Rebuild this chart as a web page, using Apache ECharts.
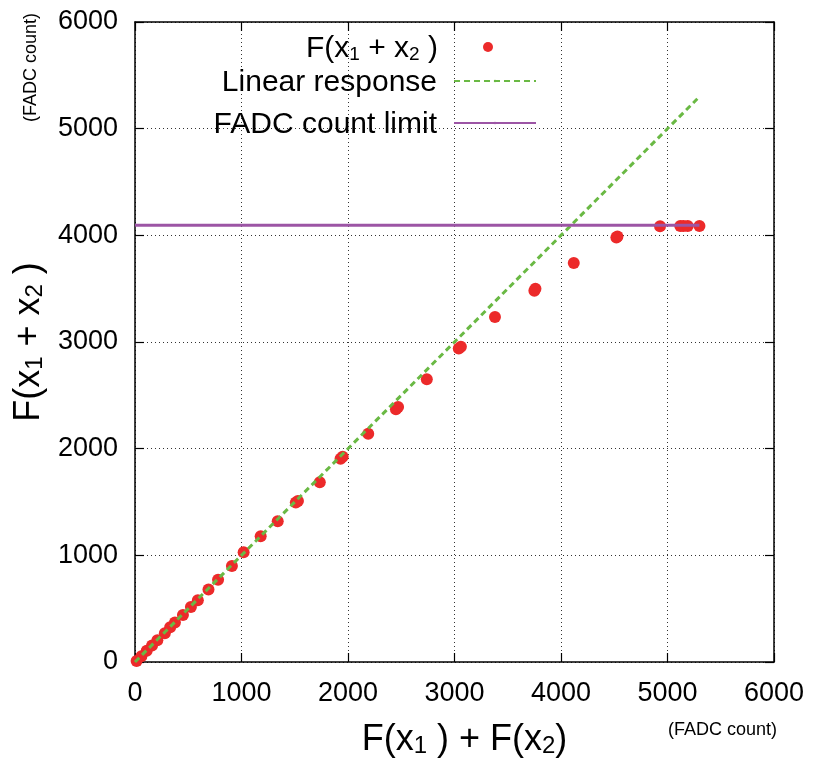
<!DOCTYPE html>
<html>
<head>
<meta charset="utf-8">
<script src="https://cdn.jsdelivr.net/npm/echarts@6/dist/echarts.min.js"></script>
<style>html,body{margin:0;padding:0;background:#fff}#c{width:825px;height:763px}</style>
</head>
<body>
<div id="c"></div>
<script>
// Measured points: input sum F(x1)+F(x2) vs. measured F(x1+x2), FADC counts
var sumInputs = [15, 60, 110, 160, 210, 280, 330, 375, 450, 525, 590, 690, 780, 910, 1020, 1180, 1340, 1510, 1530, 1735, 1930, 1950, 2190, 2450, 2470, 2740, 3040, 3060, 3380, 3750, 3760, 4120, 4520, 4530, 4930, 5120, 5150, 5190, 5300];
var measured  = [10, 55, 105, 155, 205, 270, 325, 370, 440, 515, 580, 680, 770, 900, 1030, 1180, 1320, 1495, 1510, 1685, 1905, 1925, 2140, 2370, 2390, 2650, 2940, 2955, 3235, 3480, 3500, 3740, 3980, 3990, 4085, 4088, 4088, 4088, 4088];
var linearX = [0, 5280];
var linearY = [0, 5280];
var limitX = [0, 5300];
var limitY = [4095, 4095];
var axisTicks = [0, 1000, 2000, 3000, 4000, 5000, 6000];

var FONT = '"Liberation Sans", Arial, sans-serif';
var chart = echarts.init(document.getElementById('c'));

function zip(a, b) { return a.map(function (v, i) { return [v, b[i]]; }); }

var legRich = {
  a: { fontSize: 30, fontFamily: FONT, color: '#000', verticalAlign: 'bottom', lineHeight: 34 },
  s: { fontSize: 19, fontFamily: FONT, color: '#000', verticalAlign: 'bottom', lineHeight: 30 }
};
var nameRich = {
  a: { fontSize: 36, fontFamily: FONT, color: '#000', verticalAlign: 'bottom', lineHeight: 40 },
  s: { fontSize: 24, fontFamily: FONT, color: '#000', verticalAlign: 'bottom', lineHeight: 34 }
};

var legendNames = {
  'F(x1 + x2 )': '{a|F(x}{s|1}{a| + x}{s|2}{a| )}',
  'Linear response': '{a|Linear response}',
  'FADC count limit': '{a|FADC count limit}'
};

function mkLegend(name, top, right, w, h, pad) {
  return {
    data: [name], top: top, right: right, align: 'right', orient: 'vertical',
    itemWidth: w, itemHeight: h, padding: 0, selectedMode: false,
    formatter: function (n) { return legendNames[n]; },
    textStyle: { rich: legRich, padding: [0, pad, 0, 0] }
  };
}

var gridLine = { show: true, lineStyle: { color: '#333', type: [1, 3], width: 1 } };
function axLine() { return { show: true, onZero: false, lineStyle: { color: '#000', width: 1.5 } }; }
function tick() { return { show: true, inside: true, length: 9, lineStyle: { color: '#000', width: 1.2 } }; }
function fmt(v) { return String(v); }

chart.setOption({
  animation: false,
  backgroundColor: '#fff',
  grid: { left: 135, right: 51, top: 22, bottom: 99, containLabel: false },
  legend: [
    mkLegend('F(x1 + x2 )', 34, 332, 56, 10, 17),
    mkLegend('Linear response', 68, 288, 82, 3, 12),
    mkLegend('FADC count limit', 110, 288, 82, 3, 12)
  ],
  xAxis: [{
    type: 'value', min: 0, max: 6000, interval: 1000, position: 'bottom',
    name: '{a|F(x}{s|1}{a| ) + F(x}{s|2}{a|)}', nameLocation: 'middle', nameGap: 56,
    nameTextStyle: { rich: nameRich, padding: [0, 0, 0, 20] },
    axisLine: axLine(), axisTick: tick(),
    axisLabel: { fontSize: 27, fontFamily: FONT, color: '#000', margin: 18, formatter: fmt },
    splitLine: gridLine
  }, {
    type: 'value', min: 0, max: 6000, interval: 1000, position: 'top',
    axisLine: axLine(), axisTick: tick(),
    axisLabel: { show: false }, splitLine: { show: false }
  }],
  yAxis: [{
    type: 'value', min: 0, max: 6000, interval: 1000, position: 'left',
    name: '{a|F(x}{s|1}{a| + x}{s|2}{a| )}', nameLocation: 'middle', nameGap: 88,
    nameTextStyle: { rich: nameRich },
    axisLine: axLine(), axisTick: tick(),
    axisLabel: { fontSize: 27, fontFamily: FONT, color: '#000', margin: 17, formatter: fmt },
    splitLine: gridLine
  }, {
    type: 'value', min: 0, max: 6000, interval: 1000, position: 'right',
    axisLine: axLine(), axisTick: tick(),
    axisLabel: { show: false }, splitLine: { show: false }
  }],
  graphic: [
    { type: 'text', left: 22, top: 13, rotation: Math.PI / 2,
      style: { text: '(FADC count)', fontSize: 18, fontFamily: FONT, fill: '#000' } },
    { type: 'text', left: 668, top: 721,
      style: { text: '(FADC count)', fontSize: 18, fontFamily: FONT, fill: '#000' } }
  ],
  series: [{
    name: 'F(x1 + x2 )', type: 'scatter', symbol: 'circle', symbolSize: 12, z: 2,
    itemStyle: { color: '#ec2a2a', opacity: 1 },
    data: zip(sumInputs, measured)
  }, {
    name: 'Linear response', type: 'line', showSymbol: false, symbol: 'none', z: 3,
    lineStyle: { color: '#6ab944', width: 3, type: [6, 4] },
    itemStyle: { color: '#6ab944' },
    data: zip(linearX, linearY)
  }, {
    name: 'FADC count limit', type: 'line', showSymbol: false, symbol: 'none', z: 4,
    lineStyle: { color: '#9c55a5', width: 3 },
    itemStyle: { color: '#9c55a5' },
    data: zip(limitX, limitY)
  }]
});
</script>
</body>
</html>
